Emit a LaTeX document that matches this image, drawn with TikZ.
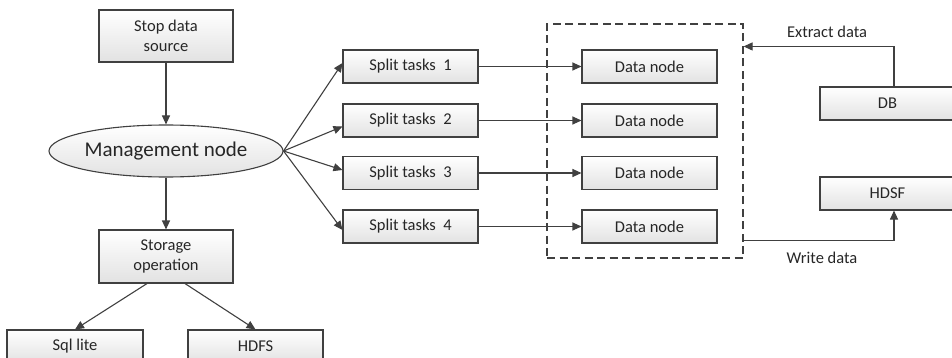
\documentclass[tikz,border=0pt]{standalone}
\usepackage{fontspec}
\setmainfont{Carlito}
\usetikzlibrary{shapes.geometric,arrows.meta}
\definecolor{ln}{HTML}{404040}
\definecolor{bf}{HTML}{E2E2E2}
\tikzset{
  box/.style={draw=ln, line width=1.1pt, top color=white, bottom color=bf,
    minimum width=135pt, minimum height=33pt, inner sep=0pt, align=center,
    font=\fontsize{16.5}{20}\selectfont, text=black!85},
  arr/.style={draw=ln, line width=1.1pt, -{Triangle[length=9pt,width=8pt]}},
  lbl/.style={font=\fontsize{16.5}{20}\selectfont, text=black!85, inner sep=0pt},
  dbx/.style={draw=ln, line width=1.1pt, dash pattern=on 8pt off 4.5pt,
    minimum width=196pt, minimum height=234pt, inner sep=0pt}
}
\begin{document}
\begin{tikzpicture}[x=1pt,y=-1pt]
\useasboundingbox (0,0) rectangle (952,358);
\clip (0,0) rectangle (952,358);
\node[box, minimum width=134pt, minimum height=52pt] (src) at (166,36) {Stop data\\source};
\node[ellipse, draw=ln, line width=1.1pt, top color=white, bottom color=bf,
  minimum width=234pt, minimum height=52pt, inner sep=0pt,
  font=\fontsize{21}{24}\selectfont, text=black!85] (mg) at (166,151) {Management node};
\node[box, minimum width=134pt, minimum height=53pt] (st) at (166,256.5) {Storage\\operation};
\node[box, minimum width=136pt] (sql) at (75,346.5) {Sql lite};
\node[box] (hdfs) at (255.5,346.5) {HDFS};

\node[dbx] (dbox) at (645,141) {};

\node[box] (s1) at (410.5,66.5) {Split tasks~~1};
\node[box] (s2) at (410.5,120.5) {Split tasks~~2};
\node[box] (s3) at (410.5,173) {Split tasks~~3};
\node[box] (s4) at (410.5,226.5) {Split tasks~~4};

\node[box] (d1) at (649.5,66.5) {Data node};
\node[box] (d2) at (649.5,120.5) {Data node};
\node[box] (d3) at (649.5,173) {Data node};
\node[box] (d4) at (649.5,226.5) {Data node};

\node[box] (db) at (887.5,103.5) {DB};
\node[box] (hdsf) at (887.5,193.5) {HDSF};

\draw[arr] (src) -- (mg);
\draw[arr] (mg) -- (st);
\draw[arr] ([xshift=-19pt]st.south) -- (sql.north);
\draw[arr] ([xshift=19pt]st.south) -- (hdfs.north);

\draw[arr] (mg.east) -- ([yshift=3.5pt]s1.west);
\draw[arr] (mg.east) -- ([yshift=-6pt]s2.west);
\draw[arr] (mg.east) -- ([yshift=3pt]s3.west);
\draw[arr] (mg.east) -- ([yshift=-3.5pt]s4.west);

\draw[arr] (s1) -- (d1);
\draw[arr] (s2) -- (d2);
\draw[arr] (s3) -- (d3);
\draw[arr] (s4) -- (d4);

\path (dbox.north east) ++(0,23) coordinate (ex);
\path (dbox.south east) ++(0,-18) coordinate (wr);
\draw[arr] ([xshift=6.5pt]db.north) |- (ex);
\draw[arr] (wr) -| ([xshift=6.5pt]hdsf.south);
\node[lbl] (exl) at (827,32) {Extract data};
\node[lbl] (wrl) at (822,258) {Write data};
\end{tikzpicture}
\end{document}
